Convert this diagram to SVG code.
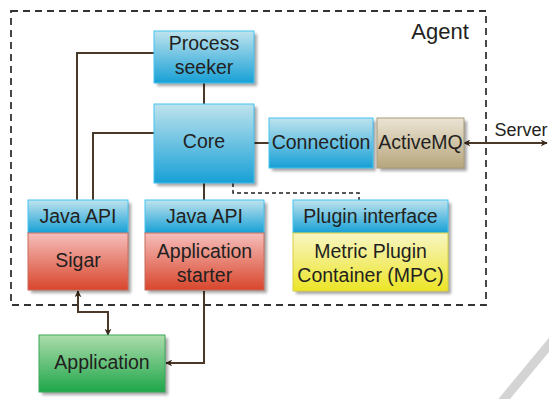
<svg xmlns="http://www.w3.org/2000/svg" width="549" height="399" viewBox="0 0 549 399">
<style>
text{font-family:"Liberation Sans",Arial,sans-serif;font-size:19.5px;fill:#231f20;text-anchor:middle}
.ln{fill:none;stroke:#4a3828;stroke-width:2}
.dash{fill:none;stroke:#231f20;stroke-width:1.5;stroke-dasharray:4 3}
.sh{fill:#000;opacity:0.35;filter:url(#blur)}
</style>
<defs>
<filter id="blur" x="-10%" y="-10%" width="130%" height="130%"><feGaussianBlur stdDeviation="1.5"/></filter>
<linearGradient id="gb" x1="0" y1="0" x2="0" y2="1"><stop offset="0" stop-color="#bfe3ee"/><stop offset="1" stop-color="#17a0d6"/></linearGradient>
<linearGradient id="gr" x1="0" y1="0" x2="0" y2="1"><stop offset="0" stop-color="#f6bebb"/><stop offset="1" stop-color="#d8462c"/></linearGradient>
<linearGradient id="gy" x1="0" y1="0" x2="0" y2="1"><stop offset="0" stop-color="#f8f5c4"/><stop offset="1" stop-color="#ece527"/></linearGradient>
<linearGradient id="gg" x1="0" y1="0" x2="0" y2="1"><stop offset="0" stop-color="#acdcac"/><stop offset="1" stop-color="#1fa64a"/></linearGradient>
<linearGradient id="gt" x1="0" y1="0" x2="0" y2="1"><stop offset="0" stop-color="#ebe4d4"/><stop offset="1" stop-color="#b7a67c"/></linearGradient>
<marker id="ah" viewBox="0 0 10 10" refX="9" refY="5" markerWidth="7" markerHeight="7" orient="auto-start-reverse" markerUnits="userSpaceOnUse"><path d="M0,0 L10,5 L0,10 L3,5 z" fill="#3a2818"/></marker>
</defs>
<rect width="549" height="399" fill="#fff"/>
<line x1="500" y1="404" x2="553" y2="340" stroke="#d4d4d4" stroke-width="9"/>

<g id="agent">
<rect x="11" y="11" width="475" height="294" fill="none" stroke="#333" stroke-width="1.8" stroke-dasharray="7 5"/>
<text x="440" y="39" style="font-size:22px">Agent</text>
</g>

<g id="connectors">
<path class="ln" d="M154,53 H77 V200"/>
<path class="ln" d="M154,133 H93 V200"/>
<path class="ln" d="M204,83 V104"/>
<path class="ln" d="M254,143 H269"/>
<path class="ln" d="M204,183 V200"/>
<path class="dash" d="M233,183 V193 H359 V200"/>
<path class="ln" d="M464,143 H547" marker-start="url(#ah)" marker-end="url(#ah)"/>
<path class="ln" d="M78,291 V312 H108 V335" marker-start="url(#ah)" marker-end="url(#ah)"/>
<path class="ln" d="M204,291 V363 H166" marker-end="url(#ah)"/>
</g>

<g id="process-seeker">
<rect x="157" y="34" width="100" height="52" class="sh"/>
<rect x="154" y="31" width="100" height="52" fill="url(#gb)" stroke="#45c3ef" stroke-width="1"/>
<text x="204" y="50">Process</text><text x="204" y="74">seeker</text>
</g>
<g id="core">
<rect x="157" y="107" width="100" height="79" class="sh"/>
<rect x="154" y="104" width="100" height="79" fill="url(#gb)" stroke="#45c3ef" stroke-width="1"/>
<text x="204" y="148">Core</text>
</g>
<g id="connection">
<rect x="272" y="121" width="104" height="50" class="sh"/>
<rect x="269" y="118" width="104" height="50" fill="url(#gb)" stroke="#45c3ef" stroke-width="1"/>
<text x="321" y="149">Connection</text>
</g>
<g id="activemq">
<rect x="380" y="121" width="87" height="50" class="sh"/>
<rect x="377" y="118" width="87" height="50" fill="url(#gt)" stroke="#a89a78" stroke-width="1"/>
<text x="420.5" y="149">ActiveMQ</text>
</g>
<text x="521" y="136" style="font-size:18px">Server</text>

<g id="java-api-sigar">
<rect x="31" y="203" width="100" height="90" class="sh"/>
<rect x="28" y="200" width="100" height="33" fill="url(#gb)" stroke="#45c3ef" stroke-width="1"/>
<text x="78" y="223">Java API</text>
</g>
<g id="sigar">
<rect x="28" y="233" width="100" height="57" fill="url(#gr)" stroke="#c86a5a" stroke-width="1"/>
<text x="78" y="267">Sigar</text>
</g>
<g id="java-api-starter">
<rect x="148" y="203" width="119" height="90" class="sh"/>
<rect x="145" y="200" width="119" height="33" fill="url(#gb)" stroke="#45c3ef" stroke-width="1"/>
<text x="204.5" y="223">Java API</text>
</g>
<g id="application-starter">
<rect x="145" y="233" width="119" height="57" fill="url(#gr)" stroke="#c86a5a" stroke-width="1"/>
<text x="204.5" y="258">Application</text><text x="204.5" y="282">starter</text>
</g>
<g id="plugin-interface">
<rect x="296" y="203" width="155" height="91" class="sh"/>
<rect x="293" y="200" width="155" height="33" fill="url(#gb)" stroke="#45c3ef" stroke-width="1"/>
<text x="370.5" y="223">Plugin interface</text>
</g>
<g id="mpc">
<rect x="293" y="233" width="155" height="58" fill="url(#gy)" stroke="#d8d040" stroke-width="1"/>
<text x="370.5" y="258">Metric Plugin</text><text x="370.5" y="282">Container (MPC)</text>
</g>
<g id="application">
<rect x="42" y="338" width="126" height="57" class="sh"/>
<rect x="39" y="335" width="126" height="57" fill="url(#gg)" stroke="#3aa85a" stroke-width="1"/>
<text x="102" y="369">Application</text>
</g>
</svg>
